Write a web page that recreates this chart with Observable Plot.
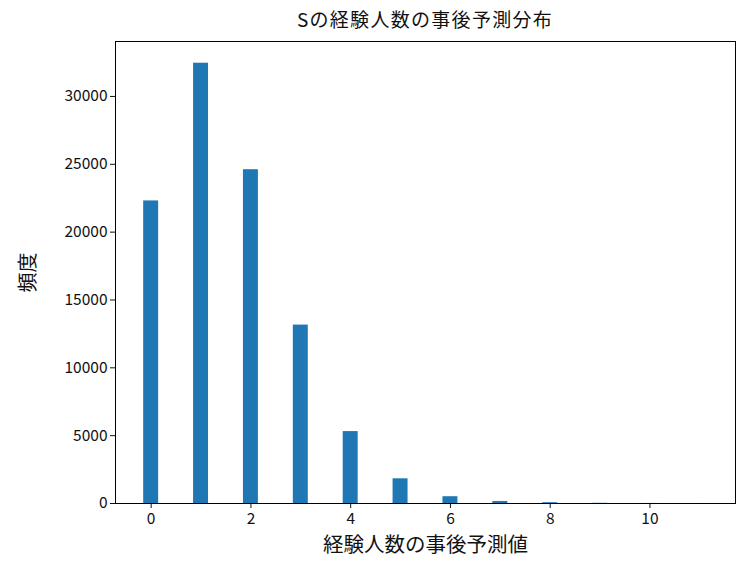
<!DOCTYPE html>
<html>
<head>
<meta charset="utf-8">
<script src="https://cdn.jsdelivr.net/npm/d3@7"></script>
<script src="https://cdn.jsdelivr.net/npm/@observablehq/plot@0.6"></script>
<style>
  body { margin: 0; background: #fff; font-family: "Noto Sans CJK JP", "DejaVu Sans", sans-serif; }
  #title { width: 756px; height: 33px; line-height: 38px; text-align: center; font-size: 19px; letter-spacing: 1.3px; color: #111; padding-left: 94px; box-sizing: border-box; }
</style>
</head>
<body>
<div id="title">Sの経験人数の事後予測分布</div>
<div id="chart"></div>
<script>
// 事後予測値 (経験人数) と頻度
const values = [0, 1, 2, 3, 4, 5, 6, 7, 8, 9, 10, 11]
const counts = [22300, 32450, 24600, 13150, 5300, 1820, 500, 150, 60, 15, 4, 1]
const yTicks = [0, 5000, 10000, 15000, 20000, 25000, 30000]
const xTicks = [0, 2, 4, 6, 8, 10]
const xLabel = '経験人数の事後予測値'
const yLabel = '頻度'

const data = values.map((v, i) => ({ v, count: counts[i] }))
const halfWidth = 0.15

const chart = Plot.plot({
  width: 756,
  height: 534,
  marginTop: 8,
  marginBottom: 64,
  marginLeft: 115,
  marginRight: 21,
  style: { fontFamily: '"Noto Sans CJK JP", "DejaVu Sans", sans-serif', fontSize: '15.5px', color: '#111' },
  x: { domain: [-0.715, 11.715] },
  y: { domain: [0, 34050] },
  marks: [
    Plot.rectY(data, {
      x1: d => d.v - halfWidth,
      x2: d => d.v + halfWidth,
      y: 'count',
      fill: '#1f77b4',
    }),
    Plot.axisX({ ticks: xTicks, tickSize: 5, tickPadding: 4, label: null }),
    Plot.axisY({ ticks: yTicks, tickFormat: d3.format('d'), tickSize: 5, tickPadding: 3, label: null }),
    Plot.text([xLabel], { frameAnchor: 'bottom', dy: 48, fontSize: 20.5, fill: '#111' }),
    Plot.text([yLabel], { frameAnchor: 'left', textAnchor: 'middle', dx: -87, rotate: -90, fontSize: 20, fill: '#111' }),
    Plot.frame({ stroke: '#000', strokeWidth: 1 }),
  ],
})
d3.select('#chart').append(() => chart)
</script>
</body>
</html>
